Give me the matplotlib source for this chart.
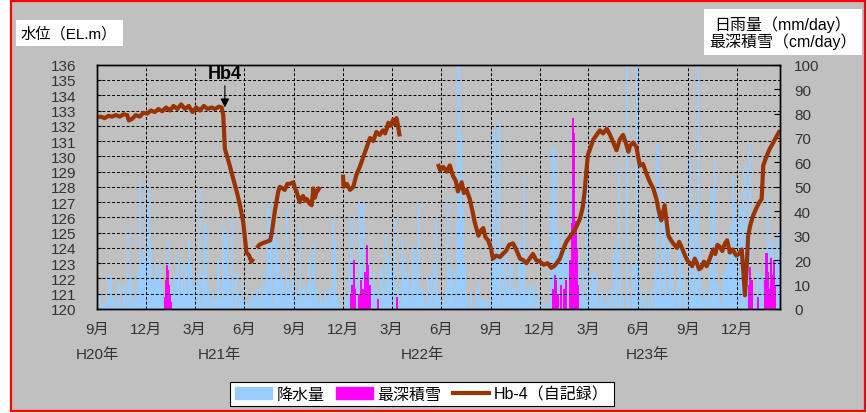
import matplotlib
matplotlib.use("Agg")
import matplotlib.pyplot as plt
import matplotlib.dates as mdates
import matplotlib.transforms as mtransforms
from matplotlib.patches import Rectangle, Patch
from matplotlib.lines import Line2D
import numpy as np
import pandas as pd

plt.rcParams['font.family'] = ['Liberation Sans', 'Noto Sans CJK JP']

START = pd.Timestamp('2008-09-01')
END_DAY = 1266

# Hb-4 water level, days counted from START; nan breaks the line where records are missing
level_day = [
    0, 7, 14, 21, 28, 35, 42, 49, 56, 59, 65, 72, 79, 86, 93, 100, 107, 114, 121, 128,
    135, 142, 149, 156, 163, 170, 177, 184, 191, 198, 205, 212, 219, 226, 231, 234, 237,
    246, 252, 259, 265, 271, 277, 282, 286, 290,
    293,
    296, 301, 306, 314, 321, 324, 330, 336, 339, 344, 348, 353, 358, 364, 367, 370, 373,
    376, 379, 382, 386, 389, 394, 398, 401, 404, 406, 410, 413,
    430,
    456, 457, 463, 469, 475, 481, 487, 493, 500, 506, 512, 518, 524, 530, 534, 537, 540,
    544, 549, 552, 555, 558, 561,
    600,
    632, 636, 642, 648, 654, 660, 665, 669, 676, 680, 685, 691, 696, 700, 707, 711, 716,
    720, 725, 730, 734, 740, 747, 752, 758, 764, 771, 777, 784, 790, 796, 802, 808, 814,
    821, 828, 835, 842, 847, 852, 858, 864, 870, 878, 886, 890, 895, 900, 904, 907, 910,
    915, 920, 926, 932, 938, 945, 951, 957, 963, 969, 975, 980, 985, 988, 994, 1000, 1006,
    1012, 1018, 1025, 1031, 1037, 1042, 1046, 1052, 1059, 1064, 1068, 1075, 1079, 1083,
    1090, 1094, 1099, 1103, 1108, 1112, 1116, 1120, 1125, 1130, 1136, 1142, 1146, 1150,
    1154, 1159, 1164, 1168, 1173, 1178, 1185, 1190, 1195, 1198, 1201, 1204, 1207, 1211,
    1216, 1222, 1228, 1232, 1235, 1240, 1247, 1252, 1258, 1266,
]
level_m = [
    132.55, 132.6, 132.5, 132.65, 132.6, 132.7, 132.6, 132.75, 132.7, 132.35, 132.45, 132.7,
    132.6, 132.85, 132.8, 133.0, 132.9, 133.1, 132.95, 133.2, 133.0, 133.3, 133.1, 133.4,
    133.1, 133.3, 132.9, 133.2, 133.0, 133.3, 133.1, 133.2, 133.1, 133.25, 133.2, 132.7,
    130.5, 129.4, 128.6, 127.7, 126.8, 125.7, 123.7, 123.5, 123.1, 123.3,
    np.nan,
    124.0, 124.2, 124.3, 124.4, 124.5, 125.0, 126.5, 127.7, 128.0, 127.9, 127.8, 128.2,
    128.2, 128.3, 127.9, 127.7, 127.3, 127.0, 127.3, 127.4, 127.1, 127.2, 126.9, 126.8,
    127.9, 127.3, 127.6, 127.8, 128.0,
    np.nan,
    128.8, 128.0, 128.2, 127.8, 128.0, 128.8, 129.3, 129.9, 130.6, 131.2, 131.0, 131.6,
    131.4, 131.7, 131.5, 131.8, 132.2, 132.0, 132.4, 132.1, 132.5, 132.0, 131.3,
    np.nan,
    129.5, 129.1, 129.3, 129.0, 129.4, 128.7, 128.4, 127.7, 128.3, 127.6, 127.8, 127.2,
    126.4, 125.7, 124.8, 125.1, 125.3, 124.7, 124.5, 124.0, 123.3, 123.5, 123.4, 123.6,
    123.8, 124.2, 124.3, 123.9, 123.3, 123.2, 123.0, 123.3, 123.6, 123.2, 123.1, 122.9,
    123.0, 122.7, 122.8, 123.0, 123.3, 123.9, 124.4, 124.8, 125.2, 125.5, 125.9, 126.6,
    127.7, 129.0, 130.1, 130.6, 131.1, 131.4, 131.7, 131.5, 131.8, 131.4, 130.9, 130.4,
    131.1, 131.4, 130.9, 130.3, 130.7, 130.9, 130.6, 129.4, 129.5, 128.9, 128.3, 127.9,
    127.2, 126.3, 125.8, 126.8, 124.8, 124.5, 124.3, 124.0, 124.4, 124.1, 123.5, 123.2,
    123.0, 122.8, 123.3, 123.0, 122.6, 122.7, 123.1, 122.8, 123.3, 123.9, 123.6, 124.2,
    124.1, 123.8, 124.3, 124.5, 123.7, 123.9, 123.5, 123.6, 123.9, 122.5, 120.9, 122.6,
    124.8, 125.5, 126.1, 126.6, 127.0, 127.2, 129.4, 129.9, 130.5, 130.8, 131.2, 131.7,
]

# daily rainfall (day, mm/day)
rain_daily = [
    (0, 16), (5, 7), (12, 2), (17, 4), (22, 14), (25, 14), (30, 5), (35, 3), (40, 11), (43, 4),
    (51, 10), (57, 33), (62, 13), (65, 8), (70, 4), (74, 8), (77, 15), (80, 53), (84, 18),
    (86, 23), (90, 19), (93, 42), (96, 51), (99, 26), (102, 8), (105, 12), (109, 19), (112, 12),
    (115, 15), (117, 19), (120, 10), (124, 6), (128, 12), (132, 28), (135, 8), (139, 12),
    (142, 6), (145, 14), (148, 23), (151, 14), (155, 7), (158, 20), (161, 8), (164, 18),
    (167, 6), (170, 29), (174, 20), (179, 10), (182, 5), (185, 14), (188, 7), (191, 49),
    (196, 15), (201, 34), (204, 6), (207, 8), (213, 7), (218, 4), (222, 9), (225, 20),
    (229, 5), (233, 12), (236, 33), (240, 31), (244, 12), (247, 6), (250, 37),
    (257, 15), (263, 7), (267, 4), (271, 10), (277, 3), (284, 5), (288, 4), (292, 7), (297, 8),
    (302, 9), (306, 5), (310, 16), (313, 9), (318, 42), (320, 28), (323, 26), (328, 41),
    (331, 29), (334, 28), (337, 19), (340, 12), (345, 14), (348, 6), (352, 41), (356, 12),
    (359, 8), (364, 14), (368, 7), (372, 4), (376, 33), (381, 8), (385, 10), (389, 5),
    (393, 21), (396, 11), (401, 27), (405, 8), (410, 4), (415, 6), (420, 3), (424, 8),
    (429, 4), (433, 8), (437, 36), (440, 28), (445, 6), (451, 3), (458, 6), (463, 4),
    (467, 18), (472, 38), (477, 10), (481, 14), (484, 8), (487, 44), (490, 12), (492, 44),
    (497, 15), (500, 9), (504, 19),
    (508, 12), (511, 6), (514, 15), (518, 8), (522, 4), (527, 17), (531, 7), (536, 30),
    (539, 10), (542, 21), (545, 8), (548, 15), (552, 37), (556, 6), (560, 10), (565, 29),
    (568, 21), (573, 16), (576, 14), (579, 5), (582, 10), (587, 26), (591, 21), (594, 8),
    (597, 44), (600, 6), (603, 8), (608, 3), (613, 14), (616, 5), (619, 14), (625, 18),
    (628, 36), (632, 5), (637, 7), (642, 3), (647, 9), (651, 46), (655, 17), (658, 12),
    (662, 15), (667, 36), (670, 105), (674, 72), (678, 41), (682, 19), (686, 6), (693, 7),
    (699, 3), (705, 8), (708, 11), (713, 4), (718, 4), (724, 3), (731, 15), (735, 73),
    (739, 22), (744, 77), (747, 21), (752, 22), (755, 10), (758, 30),
    (762, 8), (765, 18), (769, 18), (774, 8), (778, 4), (783, 28), (788, 21), (791, 54),
    (796, 8), (799, 4), (802, 10), (805, 5), (808, 10), (814, 9), (818, 7), (823, 3),
    (828, 2), (834, 3), (842, 41), (844, 66), (848, 66), (850, 33), (853, 12), (855, 29),
    (859, 19), (862, 10), (864, 33), (867, 26), (870, 23), (873, 19), (876, 15), (879, 14),
    (881, 54), (884, 9), (889, 30), (893, 21), (897, 6), (901, 18), (905, 5), (909, 53),
    (913, 8), (917, 16), (921, 15), (925, 14), (929, 4), (935, 7), (941, 3), (947, 7),
    (953, 8), (959, 23), (962, 27), (967, 59), (970, 14), (975, 6), (982, 105), (987, 5),
    (993, 18), (996, 18), (1001, 105), (1004, 18), (1008, 6), (1014, 8),
    (1018, 3), (1023, 5), (1029, 8), (1035, 16), (1039, 68), (1043, 15), (1046, 5),
    (1049, 51), (1052, 42), (1056, 6), (1060, 32), (1065, 18), (1068, 4), (1071, 7),
    (1077, 12), (1080, 26), (1083, 44), (1088, 14), (1092, 5), (1098, 62), (1102, 38),
    (1105, 14), (1108, 6), (1111, 42), (1114, 105), (1117, 26), (1120, 8), (1124, 4),
    (1127, 8), (1132, 5), (1136, 26), (1139, 50), (1142, 15), (1145, 60), (1150, 10),
    (1155, 4), (1161, 14), (1165, 15), (1169, 19), (1173, 34), (1176, 23), (1179, 55),
    (1182, 45), (1185, 14), (1188, 37), (1193, 42), (1196, 18), (1200, 48), (1202, 59),
    (1206, 26), (1210, 68), (1213, 8), (1216, 10), (1220, 5), (1224, 16), (1228, 6),
    (1232, 14), (1236, 8), (1239, 23), (1244, 46), (1247, 28), (1252, 26), (1256, 10),
    (1259, 21), (1263, 31),
]

# deepest snow cover (day, cm/day)
snow_daily = [
    (126, 5), (128, 12), (130, 18), (132, 16), (134, 10), (136, 6), (138, 3),
    (470, 6), (473, 10), (476, 20), (479, 8), (485, 6), (490, 12), (494, 8), (497, 15),
    (501, 26), (503, 18), (506, 10), (521, 4), (556, 5),
    (846, 8), (849, 14), (851, 12), (855, 6), (860, 10), (866, 8), (870, 12), (876, 20),
    (880, 35), (883, 78), (885, 72), (887, 36), (889, 25), (891, 10),
    (1208, 10), (1211, 17), (1214, 12), (1225, 5), (1238, 12), (1241, 23), (1244, 15),
    (1247, 8), (1249, 21), (1252, 14), (1254, 20), (1257, 10),
]

year_labels = ['H20年', 'H21年', 'H22年', 'H23年']
year_label_day = [0, 226, 604, 1021]

RAIN_C = '#99ccff'
SNOW_C = '#ff00ff'
LEVEL_C = '#993300'
TICK_C = '#333333'


def to_num(days):
    return mdates.date2num(START + pd.to_timedelta(np.asarray(days, dtype=float), unit='D'))


W, H = 867, 414
fig = plt.figure(figsize=(W / 100, H / 100), dpi=100, facecolor='white')
# grey panel with red frame, kept behind the axes
fig.patches.append(Rectangle((11 / W, 2 / H), 854 / W, 410 / H, transform=fig.transFigure,
                             facecolor='#c0c0c0', edgecolor='red', linewidth=1.6, zorder=-5))

ax = fig.add_axes([97 / W, 104 / H, 683 / W, 244.3 / H])
axr = ax.twinx()
ax.set_zorder(axr.get_zorder() + 1)
ax.patch.set_visible(False)
axr.set_facecolor('white')

# bars on the right-hand scale; no antialiasing so the thin daily bars stay solid
rd, rv = zip(*rain_daily)
sd, sv = zip(*snow_daily)
axr.bar(to_num(rd), rv, width=4.4, color=RAIN_C, linewidth=0, antialiased=False)
axr.bar(to_num(sd), sv, width=3.8, color=SNOW_C, linewidth=0, antialiased=False)
axr.set_ylim(0, 100)
axr.set_yticks(range(0, 101, 10))
axr.tick_params(axis='y', direction='in', length=4, pad=10, labelsize=11, labelcolor=TICK_C)

# water level on the left-hand scale
ax.plot(to_num(level_day), level_m, color=LEVEL_C, lw=3.0, solid_joinstyle='round',
        solid_capstyle='butt')
ax.set_ylim(120, 136)
ax.set_yticks(range(120, 137))
ax.set_xlim(to_num([0])[0], to_num([END_DAY])[0])
ax.xaxis.set_major_locator(mdates.MonthLocator(bymonth=(3, 6, 9, 12)))
ax.xaxis.set_major_formatter(plt.FuncFormatter(lambda v, p: f'{mdates.num2date(v).month}月'))
ax.tick_params(axis='y', direction='in', length=3, pad=15, labelsize=11, labelcolor=TICK_C)
ax.tick_params(axis='x', direction='in', length=0, pad=9, labelsize=11, labelcolor=TICK_C)
ax.grid(True, linestyle=(0, (3, 2)), color='black', linewidth=0.7)
for a in (ax, axr):
    for s in a.spines.values():
        s.set_color('black')
        s.set_linewidth(1.0)

trans = mtransforms.blended_transform_factory(ax.transData, ax.transAxes)
for d, lab in zip(year_label_day, year_labels):
    ax.text(to_num([d])[0], -0.184, lab, transform=trans, ha='center', va='center',
            fontsize=11, color=TICK_C)

# well marker
hb_x = to_num([237])[0]
ax.annotate('Hb4', xy=(hb_x, 133.2), xytext=(hb_x, 135.45), ha='center', va='center',
            fontsize=13, fontweight='bold',
            arrowprops=dict(arrowstyle='-|>', color='black', lw=0.8, mutation_scale=13,
                            shrinkA=1, shrinkB=0))

# axis titles
fig.text(21 / W, 1 - 34 / H, '水位（EL.m）', ha='left', va='center', fontsize=11,
         bbox=dict(facecolor='white', edgecolor='none', pad=4))
fig.text(783 / W, 1 - 33 / H, '日雨量（mm/day）\n最深積雪（cm/day）', ha='center', va='center',
         multialignment='center', fontsize=11.5, linespacing=1.05,
         bbox=dict(facecolor='white', edgecolor='none', pad=4))

handles = [Patch(color=RAIN_C, label='降水量'),
           Patch(color=SNOW_C, label='最深積雪'),
           Line2D([], [], color=LEVEL_C, lw=3, label='Hb-4（自記録）')]
leg = fig.legend(handles=handles, loc='center', bbox_to_anchor=(422 / W, 1 - 395 / H), ncol=3,
                 frameon=True, fancybox=False, edgecolor='black', framealpha=1, fontsize=11.5,
                 handlelength=2.3, handleheight=0.8, handletextpad=0.3, columnspacing=0.7,
                 borderpad=0.3, borderaxespad=0)
leg.get_frame().set_linewidth(0.8)

fig.savefig('out.png', dpi=100, facecolor=fig.get_facecolor())
